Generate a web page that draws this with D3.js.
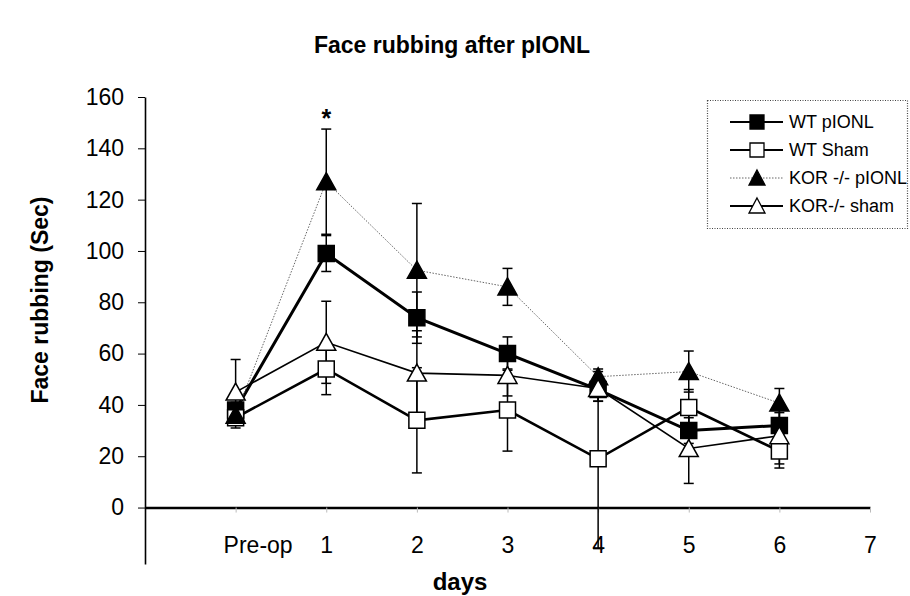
<!DOCTYPE html>
<html>
<head>
<meta charset="utf-8">
<script src="https://cdn.jsdelivr.net/npm/d3@7"></script>
<style>
  body { margin: 0; background: #fff; }
  svg { display: block; font-family: "Liberation Sans", Arial, sans-serif; }
</style>
</head>
<body>
<div id="chart"></div>
<script>
// chart values
var tickLabels = ["Pre-op", "1", "2", "3", "4", "5", "6", "7"];
var days = [0, 1, 2, 3, 4, 5, 6];

var seriesNames = ["WT pIONL", "WT Sham", "KOR -/- pIONL", "KOR-/- sham"];

var wtPionl = [38, 99, 74, 60, 46, 30, 32];
var wtPionlErr = [3, 7, 10, 6.5, 4.5, 5, 5];

var wtSham = [35, 54, 34, 38, 19, 39, 22];
var wtShamErr = [4, 10, 20.5, 16, 35, 7, 6.6];

var korPionl = [36, 127, 92.5, 86, 51, 53, 40.7];
var korPionlErr = [3, 20.5, 26, 7.2, 2, 8, 5.7];

var korSham = [45, 64.4, 52.4, 51.5, 46.4, 23, 28];
var korShamErr = [12.7, 16, 16.5, 8, 5, 13.6, 11];

var yTicks = [0, 20, 40, 60, 80, 100, 120, 140, 160];

// styling per series
var series = [
  {name: seriesNames[0], values: wtPionl, err: wtPionlErr, shape: "square", fill: "#000", width: 3, dash: null, color: "#000"},
  {name: seriesNames[1], values: wtSham, err: wtShamErr, shape: "square", fill: "#fff", width: 2.6, dash: null, color: "#000"},
  {name: seriesNames[2], values: korPionl, err: korPionlErr, shape: "triangle", fill: "#000", width: 1, dash: "1.5,1.5", color: "#666"},
  {name: seriesNames[3], values: korSham, err: korShamErr, shape: "triangle", fill: "#fff", width: 1.6, dash: null, color: "#000"}
];

var svgWidth = 910;
var svgHeight = 596;

var svg = d3.select("#chart")
  .append("svg")
  .attr("width", svgWidth)
  .attr("height", svgHeight);

var x = d3.scaleLinear().domain([-1, 7]).range([145, 870]);
var y = d3.scaleLinear().domain([-22, 160]).range([564, 97]);

// title
svg.append("text")
  .attr("x", 452)
  .attr("y", 53)
  .attr("text-anchor", "middle")
  .attr("font-size", "23px")
  .attr("font-weight", "bold")
  .text("Face rubbing after pIONL");

// y axis
var leftAxis = d3.axisLeft(y)
  .tickValues(yTicks)
  .tickSize(7)
  .tickPadding(14)
  .tickSizeOuter(0);

var yAxisG = svg.append("g")
  .attr("transform", "translate(" + x(-1) + ",0)")
  .call(leftAxis);
yAxisG.select(".domain").attr("stroke-width", 1.6);
yAxisG.selectAll(".tick line").attr("stroke-width", 1);
yAxisG.selectAll(".tick text")
  .attr("font-size", "23px")
  .attr("font-family", "Liberation Sans, Arial, sans-serif")
  .attr("fill", "#000");

// x axis sits on y = 0
var bottomAxis = d3.axisBottom(x)
  .tickValues(d3.range(0, 8))
  .tickFormat(function(d) { return tickLabels[d]; })
  .tickSize(5)
  .tickPadding(24)
  .tickSizeOuter(0);

var xAxisG = svg.append("g")
  .attr("transform", "translate(0," + y(0) + ")")
  .call(bottomAxis);
xAxisG.select(".domain").attr("stroke-width", 2.4);
xAxisG.selectAll(".tick line").attr("stroke", "#bbb");
xAxisG.selectAll(".tick text")
  .attr("font-size", "23px")
  .attr("font-family", "Liberation Sans, Arial, sans-serif")
  .attr("fill", "#000");
xAxisG.selectAll(".tick text")
  .filter(function(d) { return d === 0; })
  .attr("dx", 22);

// axis titles
svg.append("text")
  .attr("transform", "translate(48, 300) rotate(-90)")
  .attr("text-anchor", "middle")
  .attr("font-size", "23px")
  .attr("font-weight", "bold")
  .text("Face rubbing (Sec)");

svg.append("text")
  .attr("x", 460)
  .attr("y", 590)
  .attr("text-anchor", "middle")
  .attr("font-size", "24px")
  .attr("font-weight", "bold")
  .text("days");

// lines
var line = d3.line()
  .x(function(d, i) { return x(days[i]); })
  .y(function(d) { return y(d); });

series.forEach(function(s) {
  svg.append("path")
    .datum(s.values)
    .attr("fill", "none")
    .attr("stroke", s.color)
    .attr("stroke-width", s.width)
    .attr("stroke-dasharray", s.dash)
    .attr("d", line);
});

// error bars
series.forEach(function(s) {
  var g = svg.append("g").attr("stroke", "#000").attr("stroke-width", 1.5);
  s.values.forEach(function(v, i) {
    var cx = x(days[i]);
    var top = y(v + s.err[i]);
    var bot = y(v - s.err[i]);
    g.append("line").attr("x1", cx).attr("x2", cx).attr("y1", top).attr("y2", bot);
    g.append("line").attr("x1", cx - 5).attr("x2", cx + 5).attr("y1", top).attr("y2", top);
    g.append("line").attr("x1", cx - 5).attr("x2", cx + 5).attr("y1", bot).attr("y2", bot);
  });
});

// markers
function markerPath(shape, cx, cy) {
  if (shape === "square") {
    var h = 8;
    return "M" + (cx - h) + "," + (cy - h) + "H" + (cx + h) + "V" + (cy + h) + "H" + (cx - h) + "Z";
  }
  return "M" + cx + "," + (cy - 9) + "L" + (cx + 9.5) + "," + (cy + 8) + "L" + (cx - 9.5) + "," + (cy + 8) + "Z";
}

series.forEach(function(s) {
  svg.append("g").selectAll("path")
    .data(s.values)
    .enter()
    .append("path")
    .attr("d", function(d, i) { return markerPath(s.shape, x(days[i]), y(d)); })
    .attr("fill", s.fill)
    .attr("stroke", "#000")
    .attr("stroke-width", 1.5);
});

// significance star over day 1
svg.append("text")
  .attr("x", x(1))
  .attr("y", y(korPionl[1] + korPionlErr[1]) - 2)
  .attr("text-anchor", "middle")
  .attr("font-size", "25px")
  .attr("font-weight", "bold")
  .text("*");

// legend
var legend = svg.append("g");
legend.append("rect")
  .attr("x", 707.5)
  .attr("y", 100.5)
  .attr("width", 200)
  .attr("height", 128)
  .attr("fill", "#fff")
  .attr("stroke", "#444")
  .attr("stroke-width", 1.2)
  .attr("stroke-dasharray", "1,1.5");

series.forEach(function(s, i) {
  var ly = 122 + i * 28;
  legend.append("line")
    .attr("x1", 730).attr("x2", 783)
    .attr("y1", ly).attr("y2", ly)
    .attr("stroke", s.color)
    .attr("stroke-width", s.dash ? 1 : 2.2)
    .attr("stroke-dasharray", s.dash);
  legend.append("path")
    .attr("d", s.shape === "square"
      ? "M" + 750 + "," + (ly - 7) + "h14v14h-14Z"
      : "M757," + (ly - 8) + "L765," + (ly + 7) + "L749," + (ly + 7) + "Z")
    .attr("fill", s.fill)
    .attr("stroke", "#000")
    .attr("stroke-width", 1.3);
  legend.append("text")
    .attr("x", 789)
    .attr("y", ly + 6)
    .attr("font-size", "18px")
    .text(s.name);
});
</script>
</body>
</html>
